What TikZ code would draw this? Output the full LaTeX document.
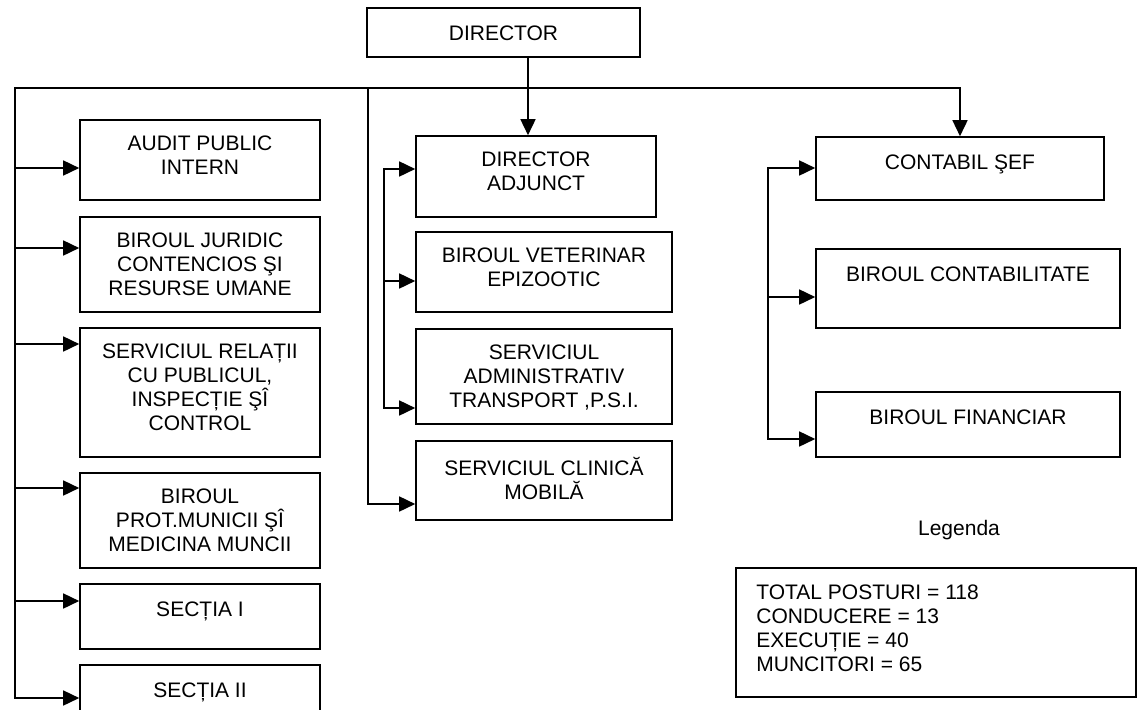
\documentclass[tikz,border=0pt]{standalone}
\usepackage{fontspec}
\setmainfont{Liberation Sans}
\usetikzlibrary{arrows.meta}

\begin{document}
\begin{tikzpicture}[x=1pt,y=1pt,
  box/.style={draw, line width=1.6pt, inner sep=0pt},
  txt/.style={inner sep=0pt, align=center, font=\fontsize{21pt}{24pt}\selectfont, execute at begin node=\strut},
  line/.style={line width=1.6pt},
  tip/.tip={Triangle[length=16pt,width=15pt]},
  arr/.style={line, -tip},
  darr/.style={line, tip-tip}]
\useasboundingbox (0,0) rectangle (1145,-709);
\clip (0,0) rectangle (1145,-709);

%Boxes
\node [box, minimum width=273pt, minimum height=49pt] (director) at (503.5,-32.5) {};
\node [box, minimum width=240pt, minimum height=80pt] (audit) at (200,-160) {};
\node [box, minimum width=240pt, minimum height=95pt] (juridic) at (200,-264.5) {};
\node [box, minimum width=240pt, minimum height=129pt] (relatii) at (200,-392.5) {};
\node [box, minimum width=240pt, minimum height=95pt] (prot) at (200,-520.5) {};
\node [box, minimum width=240pt, minimum height=65pt] (sectia1) at (200,-616.5) {};
\node [box, minimum width=240pt, minimum height=75pt] (sectia2) at (200,-702.5) {};
\node [box, minimum width=240pt, minimum height=81pt] (adjunct) at (536,-176.5) {};
\node [box, minimum width=256pt, minimum height=80pt] (veterinar) at (544,-272) {};
\node [box, minimum width=256pt, minimum height=95pt] (admin) at (544,-376.5) {};
\node [box, minimum width=256pt, minimum height=79pt] (clinica) at (544,-480.5) {};
\node [box, minimum width=288pt, minimum height=63pt] (contabil) at (960,-168.5) {};
\node [box, minimum width=304pt, minimum height=79pt] (contabilitate) at (968,-288.5) {};
\node [box, minimum width=304pt, minimum height=65pt] (financiar) at (968,-424.5) {};
\node [box, minimum width=400pt, minimum height=129pt] (legend) at (936,-632.5) {};

% Text Nodes
\node [txt, anchor=north] (director-t) at ([yshift=-16.5pt]director.north) {DIRECTOR};
\node [txt, anchor=north] (audit-t) at ([yshift=-16.5pt]audit.north) {AUDIT PUBLIC\\INTERN};
\node [txt, anchor=north] (juridic-t) at ([yshift=-16.5pt]juridic.north) {BIROUL JURIDIC\\CONTENCIOS ŞI\\RESURSE UMANE};
\node [txt, anchor=north] (relatii-t) at ([yshift=-16.5pt]relatii.north) {SERVICIUL RELAȚII\\CU PUBLICUL,\\INSPECȚIE ŞÎ\\CONTROL};
\node [txt, anchor=north] (prot-t) at ([yshift=-16.5pt]prot.north) {BIROUL\\PROT.MUNICII ŞÎ\\MEDICINA MUNCII};
\node [txt, anchor=north] (sectia1-t) at ([yshift=-16.5pt]sectia1.north) {SECȚIA I};
\node [txt, anchor=north] (sectia2-t) at ([yshift=-16.5pt]sectia2.north) {SECȚIA II};
\node [txt, anchor=north] (adjunct-t) at ([yshift=-16.5pt]adjunct.north) {DIRECTOR\\ADJUNCT};
\node [txt, anchor=north] (veterinar-t) at ([yshift=-16.5pt]veterinar.north) {BIROUL VETERINAR\\EPIZOOTIC};
\node [txt, anchor=north] (admin-t) at ([yshift=-16.5pt]admin.north) {SERVICIUL\\ADMINISTRATIV\\TRANSPORT ,P.S.I.};
\node [txt, anchor=north] (clinica-t) at ([yshift=-16.5pt]clinica.north) {SERVICIUL CLINICĂ\\MOBILĂ};
\node [txt, anchor=north] (contabil-t) at ([yshift=-16.5pt]contabil.north) {CONTABIL ŞEF};
\node [txt, anchor=north] (contabilitate-t) at ([yshift=-16.5pt]contabilitate.north) {BIROUL CONTABILITATE};
\node [txt, anchor=north] (financiar-t) at ([yshift=-16.5pt]financiar.north) {BIROUL FINANCIAR};
\node [txt, anchor=base] (legenda) at (959,-535) {Legenda};
\node [txt, align=left, anchor=north west] (legend-t) at ([xshift=21pt,yshift=-17.5pt]legend.north west) {TOTAL POSTURI = 118\\CONDUCERE = 13\\EXECUȚIE = 40\\MUNCITORI = 65};

%Bus and branch points
\coordinate (bl) at (15,-88);
\coordinate (bm) at (368,-88);
\coordinate (bd) at (528,-88);
\coordinate (br) at (960,-88);
\coordinate (l1) at (15,-168);
\coordinate (l2) at (15,-248);
\coordinate (l3) at (15,-344);
\coordinate (l4) at (15,-488);
\coordinate (l5) at (15,-601);
\coordinate (l6) at (15,-698);
\coordinate (m0) at (368,-504);
\coordinate (m1) at (384,-169);
\coordinate (m2) at (384,-281);
\coordinate (m3) at (384,-408);
\coordinate (r1) at (768,-168);
\coordinate (r2) at (768,-297);
\coordinate (r3) at (768,-439);

%Connectors
\draw [darr] (sectia2.west |- l6) -- (l6) -- (bl) -- (br) -- (contabil.north);
\draw [arr] (director.south -| bd) -- (adjunct.north -| bd);
\foreach \p/\b in {l1/audit, l2/juridic, l3/relatii, l4/prot, l5/sectia1}
  \draw [arr] (\p) -- (\p -| \b.west);
\draw [arr] (bm) -- (m0) -- (m0 -| clinica.west);
\draw [darr] (adjunct.west |- m1) -- (m1) -- (m3) -- (m3 -| admin.west);
\draw [arr] (m2) -- (m2 -| veterinar.west);
\draw [darr] (contabil.west |- r1) -- (r1) -- (r3) -- (r3 -| financiar.west);
\draw [arr] (r2) -- (r2 -| contabilitate.west);

\end{tikzpicture}
\end{document}
